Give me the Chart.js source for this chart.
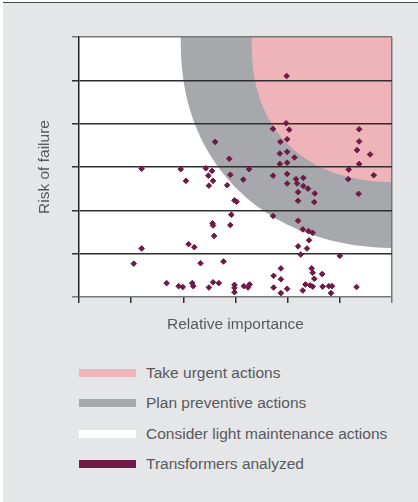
<!DOCTYPE html>
<html>
<head>
<meta charset="utf-8">
<script src="https://cdn.jsdelivr.net/npm/chart.js@4.4.1/dist/chart.umd.min.js"></script>
<style>
  body { margin: 0; background: #fff; width: 418px; height: 502px; overflow: hidden; font-family: "Liberation Sans", Arial, sans-serif; }
  #panel { position: absolute; left: 3px; top: 2px; width: 415px; height: 500px; background: #e5e6e8; border-top: 1px solid #4a4a4a; box-sizing: border-box; }
  #chart-box { position: absolute; left: 0; top: 0; width: 418px; height: 340px; }
  .legend-row { position: absolute; left: 79px; height: 20px; display: flex; align-items: center; }
  .legend-swatch { width: 57px; height: 8px; margin-right: 10px; }
  .legend-text { font-size: 15.5px; line-height: 20px; color: #58595b; white-space: nowrap; }
</style>
</head>
<body>
<div id="panel"></div>
<div id="chart-box"><canvas id="riskChart"></canvas></div>
<div id="legend"></div>
<script>
// transformers analyzed (relative importance / risk of failure)
const importance = [
  1.20, 1.95, 2.43, 2.55, 2.48, 2.57, 2.49, 2.05, 2.61, 2.88,
  2.90, 2.84, 3.26, 3.15, 2.98, 3.02, 2.92, 2.56, 2.57, 2.90,
  2.59, 1.20, 2.10, 2.21, 1.05, 2.33, 2.77, 1.68, 1.91, 1.99,
  2.17, 2.19, 2.49, 2.57, 2.68, 2.98, 2.98, 2.98, 3.16, 3.24,
  3.27, 3.98, 3.97, 3.72, 4.03, 3.99, 3.86, 3.85, 3.99, 4.13,
  3.85, 3.99, 5.37, 5.37, 5.33, 5.58, 5.37, 5.17, 5.65, 5.16,
  5.36, 3.72, 3.99, 4.16, 4.30, 3.99, 4.18, 4.30, 4.39, 4.20,
  4.52, 4.20, 4.51, 3.72, 4.20, 4.29, 4.40, 4.48, 4.41, 4.20,
  4.37, 4.25, 5.00, 3.87, 3.73, 3.87, 4.46, 4.48, 4.66, 4.51,
  3.73, 3.87, 3.99, 4.29, 4.34, 4.43, 4.48, 4.67, 4.79, 4.85,
  4.83, 5.32
];
const risk = [
  2.96, 2.95, 2.97, 2.91, 2.80, 2.68, 2.57, 2.68, 3.58, 3.19,
  2.82, 2.58, 2.95, 2.71, 2.23, 2.20, 1.90, 1.70, 1.65, 1.66,
  1.41, 1.12, 1.22, 1.15, 0.77, 0.78, 0.82, 0.32, 0.25, 0.23,
  0.32, 0.25, 0.22, 0.34, 0.32, 0.28, 0.21, 0.11, 0.25, 0.22,
  0.29, 5.10, 4.01, 3.88, 3.86, 3.64, 3.58, 3.31, 3.35, 3.22,
  3.07, 3.10, 3.87, 3.59, 3.39, 3.29, 3.07, 2.94, 2.81, 2.72,
  2.38, 2.80, 2.84, 2.72, 2.75, 2.62, 2.62, 2.56, 2.50, 2.42,
  2.39, 2.22, 2.19, 1.87, 1.76, 1.56, 1.52, 1.48, 1.31, 1.17,
  1.12, 0.98, 0.95, 0.66, 0.49, 0.41, 0.66, 0.56, 0.53, 0.42,
  0.22, 0.09, 0.19, 0.15, 0.29, 0.27, 0.24, 0.24, 0.25, 0.25,
  0.09, 0.23
];

// action zones, both anchored near the top right corner
const zoneCenter = [6.15, 5.93];
const urgentRadii = [2.84, 3.28];
const preventiveRadii = [4.20, 4.80];
const urgentShape = 2.35;
const preventiveShape = 2.2;

const axisTicks = [0, 1, 2, 3, 4, 5, 6];

const legendLabels = ["Take urgent actions", "Plan preventive actions", "Consider light maintenance actions", "Transformers analyzed"];
const legendColors = ["#efb3ba", "#a7a8ab", "#ffffff", "#6e1a45"];

const points = importance.map((v, i) => ({ x: v, y: risk[i] }));

function drawZone(ctx, xs, ys, radii, shape, color) {
    const cx = xs.getPixelForValue(zoneCenter[0]);
    const cy = ys.getPixelForValue(zoneCenter[1]);
    const rx = cx - xs.getPixelForValue(zoneCenter[0] - radii[0]);
    const ry = ys.getPixelForValue(zoneCenter[1] - radii[1]) - cy;
    ctx.beginPath();
    for (let k = 0; k <= 200; k++) {
        const t = k / 200 * Math.PI * 2;
        const c = Math.cos(t), s = Math.sin(t);
        const px = cx + rx * Math.sign(c) * Math.pow(Math.abs(c), 2 / shape);
        const py = cy + ry * Math.sign(s) * Math.pow(Math.abs(s), 2 / shape);
        if (k === 0) ctx.moveTo(px, py); else ctx.lineTo(px, py);
    }
    ctx.closePath();
    ctx.fillStyle = color;
    ctx.fill();
}

// zones go under the grid lines
const zonePlugin = {
    id: 'zones',
    beforeDraw(chart) {
        const { ctx, chartArea: a, scales } = chart;
        ctx.save();
        ctx.fillStyle = legendColors[2];
        ctx.fillRect(a.left, a.top, a.right - a.left, a.bottom - a.top);
        ctx.beginPath();
        ctx.rect(a.left, a.top, a.right - a.left, a.bottom - a.top);
        ctx.clip();
        drawZone(ctx, scales.x, scales.y, preventiveRadii, preventiveShape, legendColors[1]);
        drawZone(ctx, scales.x, scales.y, urgentRadii, urgentShape, legendColors[0]);
        ctx.restore();
    }
};

const titleFont = { family: "'Liberation Sans', Arial, sans-serif", size: 15.5 };

new Chart(document.getElementById('riskChart'), {
    type: 'scatter',
    data: {
        datasets: [{
            label: legendLabels[3],
            data: points,
            pointStyle: 'rectRot',
            pointRadius: 2.8,
            pointHoverRadius: 2.8,
            borderWidth: 1,
            backgroundColor: legendColors[3],
            borderColor: legendColors[3]
        }]
    },
    options: {
        responsive: true,
        maintainAspectRatio: false,
        animation: false,
        events: [],
        layout: { autoPadding: false, padding: { left: 35.7, top: 37, right: 26, bottom: 5.7 } },
        plugins: { legend: { display: false }, tooltip: { enabled: false } },
        scales: {
            x: {
                min: axisTicks[0],
                max: axisTicks[axisTicks.length - 1],
                afterBuildTicks: s => { s.ticks = axisTicks.map(v => ({ value: v })); },
                ticks: { display: false },
                grid: {
                    drawOnChartArea: true,
                    color: c => c.index === axisTicks.length - 1 ? '#77787a' : 'rgba(0,0,0,0)',
                    tickColor: c => c.index === axisTicks.length - 1 ? '#77787a' : '#2e2e2e',
                    tickLength: 6,
                    lineWidth: 1.5
                },
                border: { display: false },
                title: { display: true, text: 'Relative importance', color: '#58595b', font: titleFont, padding: { top: 12.7, bottom: 0 } }
            },
            y: {
                min: axisTicks[0],
                max: axisTicks[axisTicks.length - 1],
                afterBuildTicks: s => { s.ticks = axisTicks.map(v => ({ value: v })); },
                ticks: { display: false },
                grid: {
                    color: c => (c.index === 0 || c.index === axisTicks.length - 1) ? '#77787a' : '#2e2e2e',
                    tickLength: 7,
                    lineWidth: 1.5
                },
                border: { color: '#222222', width: 1.5 },
                title: { display: true, text: 'Risk of failure', color: '#58595b', font: titleFont, padding: { top: 0, bottom: 17.7 } }
            }
        }
    },
    plugins: [zonePlugin]
});

// legend rows
const legendBox = document.getElementById('legend');
legendLabels.forEach((label, i) => {
    const row = document.createElement('div');
    row.className = 'legend-row';
    row.style.top = (363 + i * 30.3) + 'px';
    row.innerHTML = `<div class="legend-swatch" style="background:${legendColors[i]}"></div><div class="legend-text">${label}</div>`;
    legendBox.appendChild(row);
});
</script>
</body>
</html>
